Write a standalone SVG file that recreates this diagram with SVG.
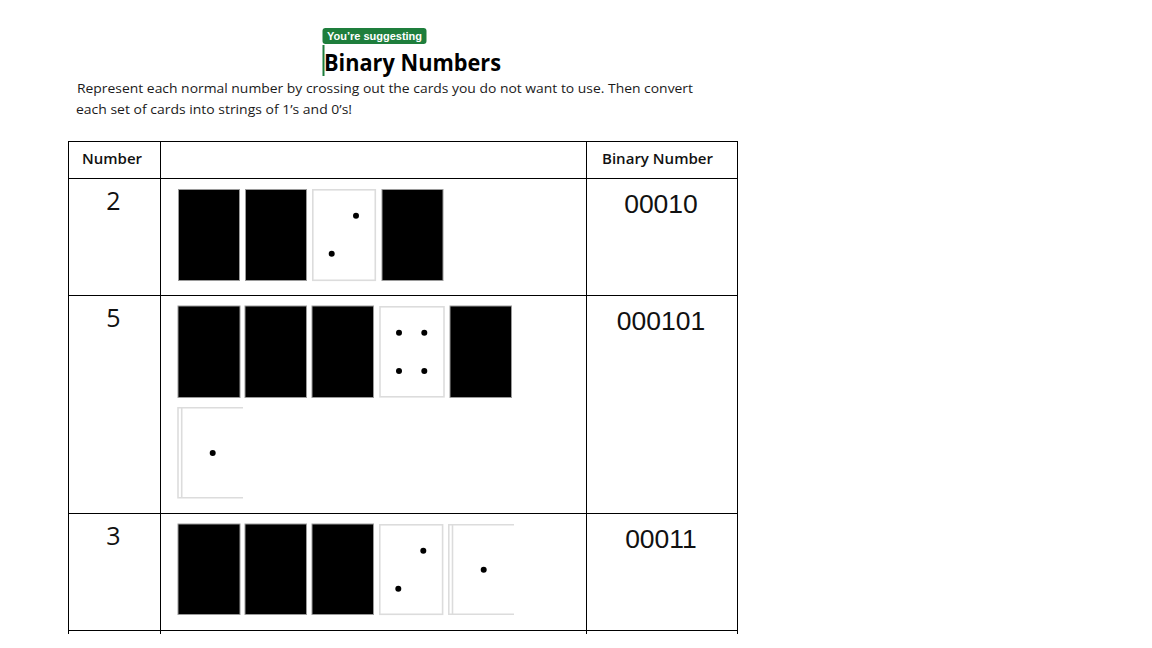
<svg xmlns="http://www.w3.org/2000/svg" width="1152" height="648" viewBox="0 0 1152 648">
<style>
.body{font-family:"Open Sans","Noto Sans",sans-serif;font-size:13px;fill:#1a1a1a}
.hdr{font-family:"Open Sans","Noto Sans",sans-serif;font-size:14px;font-weight:600;fill:#111}
.num{font-family:"Open Sans","Noto Sans",sans-serif;font-size:25px;fill:#111;text-anchor:middle}
.bin{font-family:"Liberation Sans",Arial,sans-serif;font-size:26.5px;fill:#111;text-anchor:middle}
.grid{stroke:#000;stroke-width:1;fill:none}
.blk{fill:#000;stroke:#9a9a9a;stroke-width:1}
.wht{fill:#fff;stroke:#dcdcdc;stroke-width:1.6}
.edge{fill:none;stroke:#dcdcdc;stroke-width:1.6}
.dot{fill:#000}
</style>
<rect width="1152" height="648" fill="#fff"/>
<g id="header">
<rect x="322.5" y="28" width="104" height="16" rx="3" fill="#1e7e3c"/>
<text x="374.5" y="40" text-anchor="middle" font-family="Liberation Sans,Arial,sans-serif" font-size="11" font-weight="bold" fill="#fff">You’re suggesting</text>
<rect x="322.5" y="45" width="2" height="31" fill="#1e7e3c"/>
<text x="324" y="71" font-family="Open Sans,Noto Sans,sans-serif" font-size="23" font-weight="700" fill="#000" textLength="177" lengthAdjust="spacingAndGlyphs">Binary Numbers</text>
<text class="body" x="77" y="93" textLength="616" lengthAdjust="spacingAndGlyphs">Represent each normal number by crossing out the cards you do not want to use. Then convert</text>
<text class="body" x="76" y="114" textLength="276" lengthAdjust="spacingAndGlyphs">each set of cards into strings of 1’s and 0’s!</text>
</g>
<g id="table">
<line class="grid" x1="68" y1="141.5" x2="738" y2="141.5"/>
<line class="grid" x1="68" y1="178.5" x2="738" y2="178.5"/>
<line class="grid" x1="68" y1="295.5" x2="738" y2="295.5"/>
<line class="grid" x1="68" y1="513.5" x2="738" y2="513.5"/>
<line class="grid" x1="68" y1="630.5" x2="738" y2="630.5"/>
<line class="grid" x1="68.5" y1="141" x2="68.5" y2="634"/>
<line class="grid" x1="160.5" y1="141" x2="160.5" y2="634"/>
<line class="grid" x1="586.5" y1="141" x2="586.5" y2="634"/>
<line class="grid" x1="737.5" y1="141" x2="737.5" y2="634"/>
<text class="hdr" x="82" y="164" textLength="60" lengthAdjust="spacingAndGlyphs">Number</text>
<text class="hdr" x="602" y="164" textLength="111" lengthAdjust="spacingAndGlyphs">Binary Number</text>
</g>
<g id="row-2">
<text class="num" x="113.5" y="210">2</text>
<rect class="blk" x="178.5" y="189.5" width="61" height="91"/>
<rect class="blk" x="245.5" y="189.5" width="61" height="91"/>
<rect class="wht" x="312.8" y="189.8" width="62.5" height="90.5"/>
<circle class="dot" cx="356" cy="215.7" r="3"/>
<circle class="dot" cx="331.7" cy="253.7" r="3"/>
<rect class="blk" x="382" y="189.5" width="61" height="91"/>
<text class="bin" x="661" y="212.5">00010</text>
</g>
<g id="row-5">
<text class="num" x="113.5" y="327">5</text>
<rect class="blk" x="178" y="306" width="62" height="91.5"/>
<rect class="blk" x="245" y="306" width="61.5" height="91.5"/>
<rect class="blk" x="312" y="306" width="61.5" height="91.5"/>
<rect class="wht" x="380" y="306.8" width="64" height="90"/>
<circle class="dot" cx="399" cy="332.7" r="3"/>
<circle class="dot" cx="424.3" cy="332.7" r="3"/>
<circle class="dot" cx="399" cy="371" r="3"/>
<circle class="dot" cx="424.3" cy="371" r="3"/>
<rect class="blk" x="450" y="306" width="61.5" height="91.5"/>
<path class="edge" d="M243 407.8H178V497.8H243M181.7 407.8V497.8"/>
<circle class="dot" cx="212.7" cy="453" r="3"/>
<text class="bin" x="661" y="329.5">000101</text>
</g>
<g id="row-3">
<text class="num" x="113.5" y="545">3</text>
<rect class="blk" x="178" y="524" width="62" height="90.5"/>
<rect class="blk" x="245" y="524" width="61.5" height="90.5"/>
<rect class="blk" x="312" y="524" width="61.5" height="90.5"/>
<rect class="wht" x="379.8" y="524.8" width="62.8" height="89.5"/>
<circle class="dot" cx="423.3" cy="550.7" r="3"/>
<circle class="dot" cx="398.3" cy="588.7" r="3"/>
<path class="edge" d="M514 524.8H448.8V614.3H514M452.5 524.8V614.3"/>
<circle class="dot" cx="483.7" cy="569.7" r="3"/>
<text class="bin" x="661" y="547.5">00011</text>
</g>
</svg>
